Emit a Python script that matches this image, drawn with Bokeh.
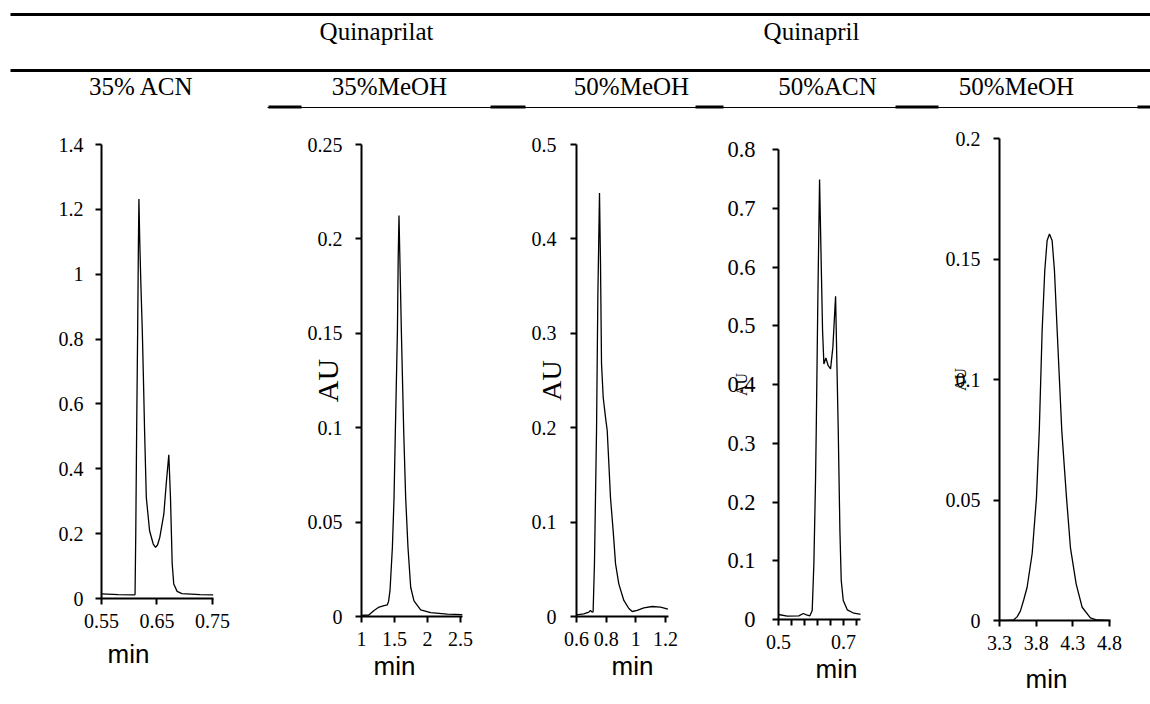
from bokeh.plotting import figure
from bokeh.layouts import column, row
from bokeh.models import Range1d, FixedTicker, Title
from bokeh.embed import file_html
from bokeh.resources import INLINE
from bokeh.core.properties import value

# ---------------- data ----------------
group_labels = ["Quinaprilat", "Quinapril"]
condition_labels = ["35% ACN", "35%MeOH", "50%MeOH", "50%ACN", "50%MeOH"]
x_title = "min"
y_title = "AU"

# Panel 1: 35% ACN
t1 = [0.550, 0.580, 0.6086, 0.6105, 0.6118, 0.6134, 0.6152, 0.6165, 0.6175, 0.6190,
      0.6210, 0.6236, 0.6260, 0.6277, 0.6308, 0.6367, 0.6433, 0.6475, 0.6510, 0.6552,
      0.6624, 0.6672, 0.6714, 0.6744, 0.6775, 0.6803, 0.6864, 0.6950, 0.7280, 0.7516]
a1 = [0.0144, 0.012, 0.011, 0.012, 0.20, 0.517, 0.825, 1.08, 1.232, 1.10,
      0.97, 0.825, 0.65, 0.517, 0.312, 0.209, 0.168, 0.158, 0.165, 0.189,
      0.26, 0.363, 0.443, 0.312, 0.107, 0.045, 0.022, 0.015, 0.012, 0.011]
x1_ticks = [0.55, 0.65, 0.75]
x1_labels = ["0.55", "0.65", "0.75"]
y1_ticks = [0, 0.2, 0.4, 0.6, 0.8, 1.0, 1.2, 1.4]
y1_labels = ["0", "0.2", "0.4", "0.6", "0.8", "1", "1.2", "1.4"]

# Panel 2: 35%MeOH
t2 = [1.00, 1.11, 1.19, 1.266, 1.342, 1.392, 1.41, 1.432, 1.468, 1.493, 1.513, 1.544,
      1.556, 1.568, 1.580, 1.604, 1.639, 1.669, 1.704, 1.745, 1.795, 1.896, 2.047, 2.30, 2.53]
a2 = [0.0006, 0.0008, 0.0032, 0.005, 0.0058, 0.0062, 0.008, 0.0138, 0.0367, 0.063, 0.0985, 0.151,
      0.190, 0.2124, 0.192, 0.151, 0.0985, 0.063, 0.0367, 0.0155, 0.0083, 0.0035, 0.002, 0.0013, 0.001]
x2_ticks = [1, 1.5, 2, 2.5]
x2_labels = ["1", "1.5", "2", "2.5"]
y2_ticks = [0, 0.05, 0.1, 0.15, 0.2, 0.25]
y2_labels = ["0", "0.05", "0.1", "0.15", "0.2", "0.25"]

# Panel 3: 50%MeOH
t3 = [0.600, 0.649, 0.683, 0.694, 0.705, 0.712, 0.721, 0.728, 0.735, 0.7438, 0.755,
      0.7618, 0.7686, 0.780, 0.7955, 0.807, 0.818, 0.829, 0.847, 0.863, 0.885, 0.919,
      0.953, 0.9755, 1.009, 1.054, 1.110, 1.166, 1.216]
a3 = [0.0018, 0.0028, 0.0046, 0.0064, 0.0046, 0.005, 0.056, 0.126, 0.197, 0.338, 0.4485,
      0.3736, 0.268, 0.232, 0.211, 0.197, 0.162, 0.126, 0.091, 0.056, 0.0346, 0.017,
      0.0085, 0.0053, 0.0064, 0.0092, 0.0106, 0.0099, 0.0078]
x3_ticks = [0.6, 0.8, 1.0, 1.2]
x3_labels = ["0.6", "0.8", "1", "1.2"]
y3_ticks = [0, 0.1, 0.2, 0.3, 0.4, 0.5]
y3_labels = ["0", "0.1", "0.2", "0.3", "0.4", "0.5"]

# Panel 4: 50%ACN
t4 = [0.500, 0.527, 0.5625, 0.576, 0.586, 0.5964, 0.6036, 0.6087, 0.6138, 0.616, 0.621,
      0.6262, 0.6313, 0.6354, 0.6395, 0.6456, 0.6528, 0.660, 0.6671, 0.6754, 0.6795,
      0.6836, 0.6887, 0.6928, 0.699, 0.7113, 0.7318, 0.7544]
a4 = [0.0085, 0.0057, 0.0062, 0.0102, 0.008, 0.0062, 0.0153, 0.0948, 0.2366, 0.322, 0.5486,
      0.749, 0.6054, 0.4919, 0.435, 0.445, 0.432, 0.4267, 0.4636, 0.5503, 0.435,
      0.322, 0.1515, 0.0664, 0.0323, 0.0165, 0.0107, 0.0085]
x4_ticks = [0.5, 0.54, 0.58, 0.62, 0.66, 0.7, 0.74]
x4_labels = ["0.5", "", "", "", "", "0.7", ""]
y4_ticks = [0, 0.1, 0.2, 0.3, 0.4, 0.5, 0.6, 0.7, 0.8]
y4_labels = ["0", "0.1", "0.2", "0.3", "0.4", "0.5", "0.6", "0.7", "0.8"]

# Panel 5: 50%MeOH
t5 = [3.30, 3.40, 3.495, 3.54, 3.586, 3.63, 3.677, 3.746, 3.805, 3.843, 3.882, 3.918,
      3.95, 3.982, 4.018, 4.05, 4.087, 4.15, 4.214, 4.269, 4.346, 4.428, 4.541, 4.632, 4.81]
a5 = [0.0, 0.0, 0.0003, 0.0015, 0.004, 0.0085, 0.0138, 0.0278, 0.0512, 0.0788, 0.1203, 0.1452,
      0.1577, 0.1604, 0.1577, 0.1452, 0.1203, 0.0788, 0.0512, 0.030, 0.0152, 0.0055, 0.0011, 0.0002, 0.0]
x5_ticks = [3.3, 3.8, 4.3, 4.8]
x5_labels = ["3.3", "3.8", "4.3", "4.8"]
y5_ticks = [0, 0.05, 0.1, 0.15, 0.2]
y5_labels = ["0", "0.05", "0.1", "0.15", "0.2"]

# ---------------- style / layout ----------------
SERIF = "Liberation Serif"
SANS = "Liberation Sans"
HEADER_H = 115
PANEL_H = 704 - HEADER_H

header = figure(width=1150, height=HEADER_H, x_range=Range1d(0, 1150), y_range=Range1d(HEADER_H, 0),
                output_backend="svg", toolbar_location=None, x_axis_type=None, y_axis_type=None,
                min_border=0, outline_line_color=None, frame_align=False)
header.segment(x0=[10, 10], y0=[14, 70], x1=[1150, 1150], y1=[14, 70], line_color="black", line_width=3)
header.segment(x0=[267], y0=[107], x1=[1150], y1=[107], line_color="black", line_width=1.2)
header.segment(x0=[268, 490, 695, 895, 1137], y0=[106.5] * 5,
               x1=[301, 525, 723, 938, 1150], y1=[106.5] * 5, line_color="black", line_width=3)
header.text(x=[376, 811], y=[31, 31], text=group_labels, text_font=value(SERIF),
            text_font_size="25px", text_align="center", text_baseline="middle", text_color="black")
header.text(x=[141, 389, 631, 827, 1016], y=[86] * 5, text=condition_labels, text_font=value(SERIF),
            text_font_size="25px", text_align="center", text_baseline="middle", text_color="black")


def panel(t, a, xr, yr, xt, xl, yt, yl, width, bl, br, bt, bb,
          ysize="20px", ystand=13, min_off=0, min_stand=0,
          au_size=None, au_stand=0):
    p = figure(width=width, height=PANEL_H, x_range=Range1d(*xr), y_range=Range1d(*yr),
               output_backend="svg", toolbar_location=None, frame_align=False,
               min_border_left=bl, min_border_right=br, min_border_top=bt, min_border_bottom=bb,
               outline_line_color=None, background_fill_color="white", border_fill_color="white")
    p.xgrid.visible = False
    p.ygrid.visible = False
    p.line(t, a, line_color="black", line_width=1.3)
    for ax, ticks, labels, size, stand in ((p.xaxis[0], xt, xl, "20px", 9),
                                           (p.yaxis[0], yt, yl, ysize, ystand)):
        ax.ticker = FixedTicker(ticks=ticks)
        ax.major_label_overrides = {tk: lb for tk, lb in zip(ticks, labels)}
        ax.axis_line_color = "black"
        ax.axis_line_width = 2
        ax.major_tick_line_color = "black"
        ax.major_tick_line_width = 2
        ax.major_tick_in = 0
        ax.major_tick_out = 6
        ax.minor_tick_line_color = None
        ax.major_label_text_font = SERIF
        ax.major_label_text_font_size = size
        ax.major_label_text_color = "black"
        ax.major_label_standoff = stand
    if au_size is not None:
        ya = p.yaxis[0]
        ya.axis_label = y_title
        ya.axis_label_text_font = SERIF
        ya.axis_label_text_font_size = au_size
        ya.axis_label_text_font_style = "normal"
        ya.axis_label_text_color = "black"
        ya.axis_label_standoff = au_stand
    p.add_layout(Title(text=x_title, align="left", offset=min_off, standoff=min_stand,
                       text_font=SANS, text_font_size="26px", text_font_style="normal",
                       text_color="black"), "below")
    return p


p1 = panel(t1, a1, (0.55, 0.752), (0, 1.4), x1_ticks, x1_labels, y1_ticks, y1_labels,
           240, 101, 27, 29, 106, ystand=12, min_off=6, min_stand=12)
p2 = panel(t2, a2, (1.0, 2.53), (0, 0.25), x2_ticks, x2_labels, y2_ticks, y2_labels,
           236, 121, 14, 29, 88, ystand=13, min_off=12, min_stand=0,
           au_size="30px", au_stand=-39)
p3 = panel(t3, a3, (0.6, 1.22), (0, 0.5), x3_ticks, x3_labels, y3_ticks, y3_labels,
           214, 100, 22, 29, 88, ystand=14, min_off=35, min_stand=0,
           au_size="28px", au_stand=-38)
p4 = panel(t4, a4, (0.5, 0.752), (0, 0.8), x4_ticks, x4_labels, y4_ticks, y4_labels,
           215, 88, 45, 34, 85, ysize="22.5px", ystand=17, min_off=37, min_stand=0,
           au_size="16px", au_stand=-26)
p5 = panel(t5, a5, (3.3, 4.815), (0, 0.2), x5_ticks, x5_labels, y5_ticks, y5_labels,
           245, 94, 40, 23, 84, ystand=13, min_off=26, min_stand=19,
           au_size="16px", au_stand=-26)

layout = column(header, row(p1, p2, p3, p4, p5, spacing=0), spacing=0)

open("out.html", "w").write(file_html(layout, INLINE))
